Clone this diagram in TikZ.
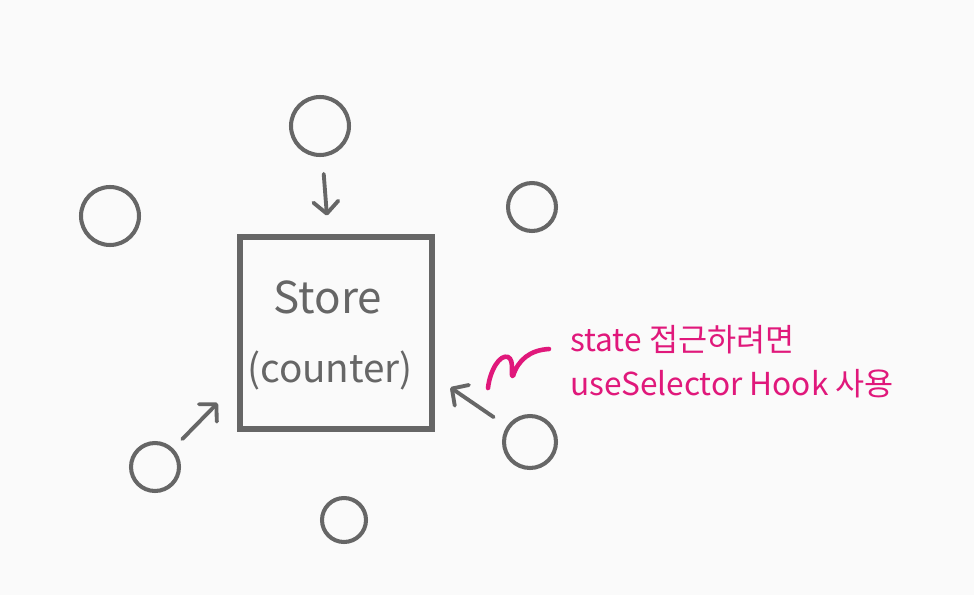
\documentclass[tikz,border=0pt]{standalone}
\usepackage{fontspec}
\usepackage{xcolor}
\usepackage{tikz}
\usetikzlibrary{arrows.meta}
\newfontfamily\krfont{Noto Sans CJK KR}
\definecolor{skGray}{HTML}{666666}
\definecolor{skPink}{HTML}{E0187B}
\definecolor{skPaper}{HTML}{FAFAFA}
\tikzset{
  comp/.style={circle,draw=skGray,line width=2.3pt,inner sep=0pt},
  storebox/.style={draw=skGray,line width=3.4pt,minimum size=3.86cm,inner sep=0pt},
  arrow/.style={-{Straight Barb[length=2.4mm,width=5mm,line cap=round,line join=round]},
    line width=2.2pt,draw=skGray,line cap=round},
  storelabel/.style={font=\krfont\fontsize{25}{28}\selectfont,text=skGray},
  note/.style={font=\krfont\fontsize{18}{24}\selectfont,text=skPink,anchor=west,inner sep=0pt}
}
\begin{document}
\begin{tikzpicture}[x=0.02cm,y=-0.02cm]
  \fill[skPaper] (0,0) rectangle (974,595);
  \useasboundingbox (0,0) rectangle (974,595);

  % store in the middle
  \node[storebox] (store) at (336,333) {};
  \node[storelabel] (storename) at (328,297) {Store};
  \node[storelabel, font=\krfont\fontsize{22}{26}\selectfont] (storestate) at (330,370) {(counter)};

  % components around it
  \node[comp, minimum size=1.16cm] (top) at (320,126) {};
  \node[comp, minimum size=1.16cm] (left) at (110,216) {};
  \node[comp, minimum size=0.96cm] (topright) at (532,207) {};
  \node[comp, minimum size=0.96cm] (botleft) at (155,467) {};
  \node[comp, minimum size=1.04cm] (right) at (530,442) {};
  \node[comp, minimum size=0.88cm] (bottom) at (344,520) {};

  \draw[arrow, shorten <=0.34cm, shorten >=0.36cm] (top) -- (store);
  \draw[arrow, shorten <=0.26cm, shorten >=0.54cm] (botleft) -- (store.207);
  \draw[arrow, shorten <=0.32cm, shorten >=0.36cm] (right) -- (store.-24);

  % note
  \draw[skPink, line width=2.6pt, line cap=round, line join=round]
    (488,388) .. controls (490,370) and (500,354) .. (508,357)
    .. controls (515,360) and (510,378) .. (513,376)
    .. controls (518,360) and (530,350) .. (549,349);
  \node[note] (note1) at (570,340) {state 접근하려면};
  \node[note] (note2) at (570,384) {useSelector Hook 사용};
\end{tikzpicture}
\end{document}
